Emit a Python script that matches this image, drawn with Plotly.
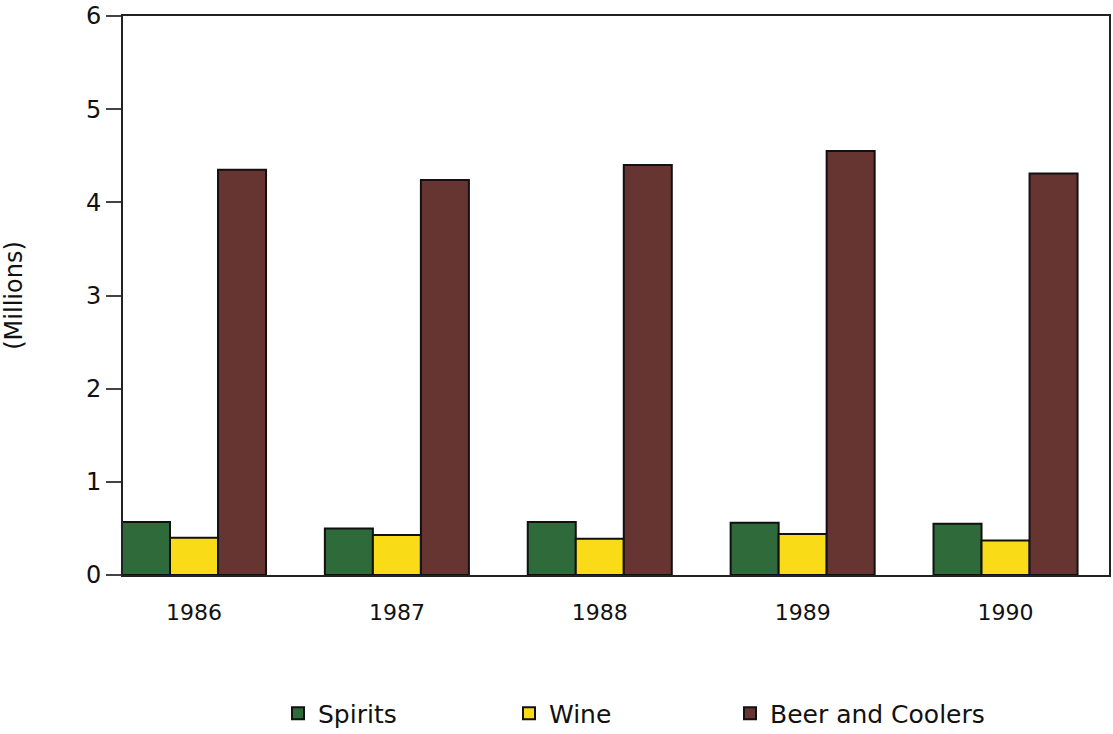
import plotly.graph_objects as go

years = ["1986", "1987", "1988", "1989", "1990"]
spirits = [0.57, 0.50, 0.57, 0.56, 0.55]
wine = [0.40, 0.43, 0.39, 0.44, 0.37]
beer = [4.35, 4.24, 4.40, 4.55, 4.31]
y_ticks = [0, 1, 2, 3, 4, 5, 6]

xpos = list(range(len(years)))
FONT = "DejaVu Sans"
TXT = "#111111"

fig = go.Figure()
series = [
    ("Spirits", spirits, "#2f6a3b", "legend"),
    ("Wine", wine, "#f9dc17", "legend2"),
    ("Beer and Coolers", beer, "#663431", "legend3"),
]
for name, vals, col, lg in series:
    fig.add_trace(go.Bar(
        x=xpos, y=vals, name=name, legend=lg, showlegend=True,
        marker=dict(color=col, line=dict(color="#111111", width=2)),
    ))

legend_common = dict(
    orientation="h", xref="container", yref="container",
    yanchor="middle", xanchor="left", y=0.028,
    font=dict(family=FONT, size=25, color=TXT),
    bgcolor="rgba(0,0,0,0)", itemwidth=30,
)

fig.update_layout(
    width=1113, height=734,
    paper_bgcolor="white", plot_bgcolor="white",
    margin=dict(l=123, r=4, t=16, b=159),
    showlegend=True,
    barmode="group", bargap=0.29, bargroupgap=0,
    font=dict(family=FONT, size=23, color=TXT),
    legend=dict(legend_common, x=278 / 1113),
    legend2=dict(legend_common, x=509 / 1113),
    legend3=dict(legend_common, x=730 / 1113),
    xaxis=dict(
        range=[-0.35, 4.51], tickmode="array", tickvals=xpos, ticktext=years,
        showline=True, linecolor="#222222", linewidth=2, mirror=True,
        ticks="outside", ticklen=17, tickcolor="rgba(0,0,0,0)",
        showgrid=False, zeroline=False, automargin=False,
        tickfont=dict(family=FONT, size=22, color=TXT),
    ),
    yaxis=dict(
        range=[0, 6], tickmode="array", tickvals=y_ticks,
        showline=True, linecolor="#222222", linewidth=2, mirror=True,
        ticks="outside", ticklen=15, tickwidth=2, tickcolor="#444444",
        showgrid=False, zeroline=False, automargin=False,
        ticklabeloverflow="allow",
        tickfont=dict(family=FONT, size=24, color=TXT),
        title=dict(text="(Millions)", font=dict(family=FONT, size=24, color=TXT), standoff=58),
    ),
)

fig.write_html(
    "out.html",
    config={"displayModeBar": False},
    post_script="document.body.style.margin='0';document.body.style.overflow='hidden';",
)
